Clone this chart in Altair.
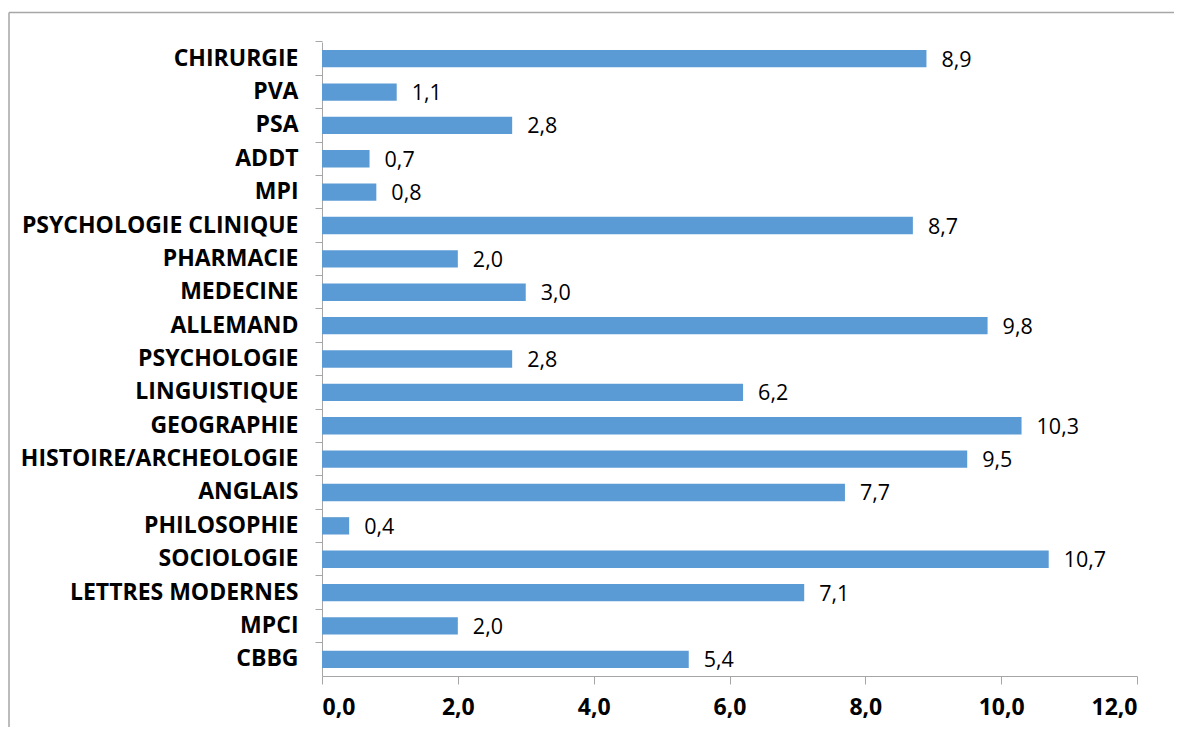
import altair as alt
import pandas as pd

categories = ["CHIRURGIE", "PVA", "PSA", "ADDT", "MPI", "PSYCHOLOGIE CLINIQUE",
              "PHARMACIE", "MEDECINE", "ALLEMAND", "PSYCHOLOGIE", "LINGUISTIQUE",
              "GEOGRAPHIE", "HISTOIRE/ARCHEOLOGIE", "ANGLAIS", "PHILOSOPHIE",
              "SOCIOLOGIE", "LETTRES MODERNES", "MPCI", "CBBG"]
values = [8.9, 1.1, 2.8, 0.7, 0.8, 8.7, 2.0, 3.0, 9.8, 2.8, 6.2, 10.3, 9.5, 7.7,
          0.4, 10.7, 7.1, 2.0, 5.4]
x_ticks = [0, 2, 4, 6, 8, 10, 12]

df = pd.DataFrame({"cat": categories, "val": values})

FONT = "Open Sans"
BAR = "#5B9BD5"
GRID = "#A6A6A6"

W, H = 815, 634

y_enc = alt.Y("cat:N", sort=categories, title=None,
              scale=alt.Scale(paddingInner=0, paddingOuter=0),
              axis=alt.Axis(labelFont=FONT, labelFontSize=23, labelFontWeight="bold",
                            labelColor="#000000", labelPadding=17, tickSize=7,
                            tickColor=GRID, domainColor=GRID, bandPosition=0,
                            labelLimit=400))
x_enc = alt.X("val:Q", title=None,
              scale=alt.Scale(domain=[0, 12], nice=False),
              axis=alt.Axis(values=x_ticks, grid=False, labelFont=FONT, labelFontSize=23,
                            labelFontWeight="bold", labelColor="#000000", labelPadding=12,
                            tickSize=8, tickColor=GRID, domainColor=GRID,
                            labelExpr="replace(format(datum.value, '.1f'), '.', ',')"))

base = alt.Chart(df)
bars = base.mark_bar(color=BAR, height={"band": 0.52}).encode(x=x_enc, y=y_enc)
labels = base.transform_calculate(
    lab="replace(format(datum.val, '.1f'), '.', ',')"
).mark_text(align="left", baseline="middle", dx=15, dy=2, font=FONT, fontSize=21.5,
            color="#000000").encode(x="val:Q", y=alt.Y("cat:N", sort=categories), text="lab:N")

frame_top = alt.Chart(df.head(1)).mark_rule(color=GRID, strokeWidth=1.5, clip=False).encode(
    x=alt.value(-313), x2=alt.value(860), y=alt.value(-29.5))
frame_left = alt.Chart(df.head(1)).mark_rule(color=GRID, strokeWidth=1.5, clip=False).encode(
    x=alt.value(-313), y=alt.value(-29.5), y2=alt.value(700))

chart = alt.layer(bars, labels, frame_top, frame_left).properties(
    width=W, height=H,
    background="white",
    padding={"left": 314, "top": 34, "right": 37, "bottom": 51},
    autosize=alt.AutoSizeParams(type="none"),
).configure_view(stroke=None)

chart.save("out.html", embed_options={"renderer": "svg", "actions": False})
